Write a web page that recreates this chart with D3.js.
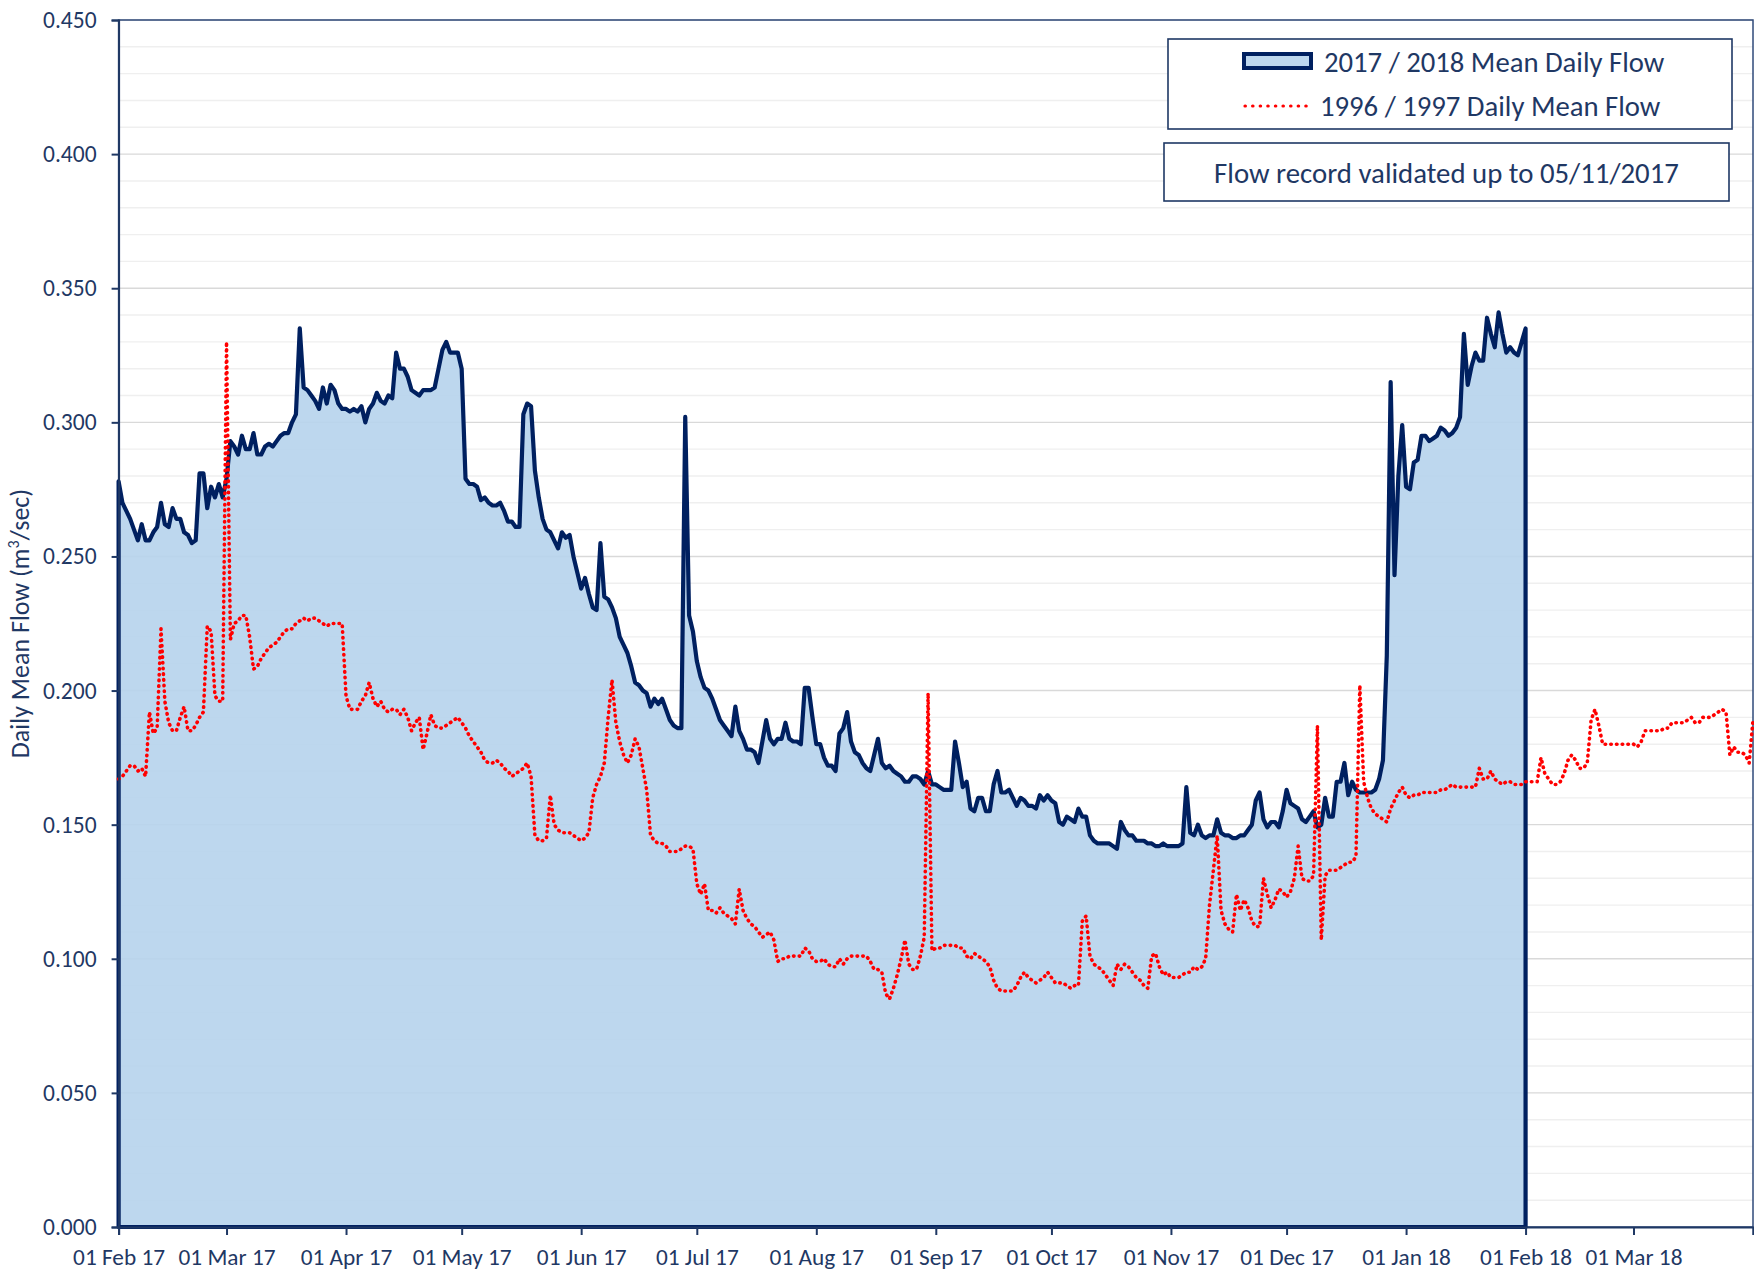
<!DOCTYPE html>
<html><head><meta charset="utf-8">
<script src="https://cdn.jsdelivr.net/npm/d3@7"></script>
<style>
body{margin:0;background:#fff}
svg{display:block}
text{font-family:Carlito, Lato, "Noto Sans", sans-serif; fill:#1f3864}
</style>
</head><body>
<svg id="chart" width="1754" height="1274"></svg>
<script>
// ---------------- DATA ----------------
const seriesStart = "2017-02-01";
const axisStart = "2017-02-01";
const axisEnd = "2018-04-01";

// 2017/2018 mean daily flow (m3/sec), one value per day from 01 Feb 2017
const flow2017 = [
0.278,0.270,0.267,0.264,0.260,0.256,0.262,0.256,0.256,0.259,
0.261,0.270,0.262,0.261,0.268,0.264,0.264,0.259,0.258,0.255,
0.256,0.281,0.281,0.268,0.276,0.272,0.277,0.272,0.279,0.293,
0.291,0.288,0.295,0.290,0.290,0.296,0.288,0.288,0.291,0.292,
0.291,0.293,0.295,0.296,0.296,0.300,0.303,0.335,0.313,0.312,
0.310,0.308,0.305,0.313,0.307,0.314,0.312,0.307,0.305,0.305,
0.304,0.305,0.304,0.306,0.300,0.305,0.307,0.311,0.308,0.307,
0.310,0.309,0.326,0.320,0.320,0.317,0.312,0.311,0.310,0.312,
0.312,0.312,0.313,0.320,0.327,0.330,0.326,0.326,0.326,0.320,
0.279,0.277,0.277,0.276,0.271,0.272,0.270,0.269,0.269,0.270,
0.267,0.263,0.263,0.261,0.261,0.303,0.307,0.306,0.282,0.272,
0.264,0.260,0.259,0.256,0.253,0.259,0.257,0.258,0.250,0.244,
0.238,0.242,0.236,0.231,0.230,0.255,0.235,0.234,0.231,0.227,
0.220,0.217,0.214,0.209,0.203,0.202,0.200,0.199,0.194,0.197,
0.195,0.197,0.193,0.189,0.187,0.186,0.186,0.302,0.228,0.222,
0.211,0.205,0.201,0.200,0.197,0.193,0.189,0.187,0.185,0.183,
0.194,0.185,0.182,0.178,0.178,0.177,0.173,0.181,0.189,0.182,
0.180,0.182,0.182,0.188,0.182,0.181,0.181,0.180,0.201,0.201,
0.190,0.180,0.180,0.175,0.172,0.172,0.170,0.184,0.186,0.192,
0.181,0.177,0.176,0.173,0.171,0.170,0.176,0.182,0.173,0.171,
0.172,0.170,0.169,0.168,0.166,0.166,0.168,0.168,0.167,0.165,
0.170,0.165,0.165,0.164,0.163,0.163,0.163,0.181,0.173,0.164,
0.166,0.156,0.155,0.160,0.160,0.155,0.155,0.165,0.170,0.162,
0.162,0.163,0.160,0.157,0.160,0.159,0.157,0.157,0.156,0.161,
0.159,0.161,0.159,0.158,0.151,0.150,0.153,0.152,0.151,0.156,
0.153,0.153,0.146,0.144,0.143,0.143,0.143,0.143,0.142,0.141,
0.151,0.148,0.146,0.146,0.144,0.144,0.144,0.143,0.143,0.142,
0.142,0.143,0.142,0.142,0.142,0.142,0.143,0.164,0.147,0.146,
0.150,0.146,0.145,0.146,0.146,0.152,0.147,0.146,0.146,0.145,
0.145,0.146,0.146,0.148,0.150,0.159,0.162,0.152,0.149,0.151,
0.151,0.149,0.155,0.163,0.158,0.157,0.156,0.152,0.151,0.153,
0.155,0.149,0.150,0.160,0.153,0.153,0.166,0.166,0.173,0.161,
0.166,0.163,0.162,0.162,0.162,0.162,0.163,0.167,0.174,0.213,
0.315,0.243,0.280,0.299,0.276,0.275,0.285,0.286,0.295,0.295,
0.293,0.294,0.295,0.298,0.297,0.295,0.296,0.298,0.302,0.333,
0.314,0.321,0.326,0.323,0.323,0.339,0.333,0.328,0.341,0.333,
0.326,0.328,0.326,0.325,0.330,0.335
];

// 1996/1997 daily mean flow (m3/sec), one value per day, overlaid from 01 Feb
const flow1996 = [
0.167,0.168,0.170,0.172,0.172,0.170,0.171,0.168,0.192,0.184,
0.186,0.223,0.196,0.188,0.185,0.185,0.190,0.194,0.185,0.185,
0.187,0.190,0.192,0.224,0.222,0.198,0.196,0.196,0.330,0.219,
0.225,0.226,0.228,0.228,0.220,0.208,0.209,0.212,0.214,0.216,
0.217,0.218,0.220,0.222,0.223,0.223,0.225,0.226,0.227,0.226,
0.227,0.227,0.226,0.225,0.224,0.225,0.225,0.225,0.225,0.198,
0.193,0.193,0.193,0.196,0.198,0.203,0.197,0.194,0.196,0.193,
0.192,0.193,0.193,0.191,0.193,0.190,0.185,0.188,0.190,0.178,
0.184,0.191,0.187,0.186,0.186,0.187,0.188,0.189,0.190,0.188,
0.186,0.183,0.181,0.179,0.177,0.174,0.173,0.173,0.174,0.173,
0.171,0.170,0.168,0.169,0.170,0.171,0.173,0.168,0.146,0.144,
0.144,0.145,0.161,0.150,0.148,0.147,0.147,0.147,0.146,0.145,
0.144,0.145,0.147,0.160,0.165,0.168,0.173,0.190,0.204,0.188,
0.181,0.176,0.173,0.176,0.182,0.179,0.171,0.163,0.146,0.144,
0.143,0.143,0.142,0.140,0.140,0.140,0.141,0.142,0.142,0.141,
0.128,0.124,0.128,0.118,0.118,0.117,0.119,0.117,0.116,0.115,
0.113,0.126,0.118,0.115,0.113,0.112,0.110,0.108,0.109,0.110,
0.107,0.099,0.100,0.100,0.101,0.101,0.101,0.101,0.104,0.103,
0.100,0.099,0.099,0.100,0.098,0.097,0.097,0.100,0.098,0.100,
0.101,0.101,0.101,0.101,0.101,0.099,0.096,0.096,0.095,0.087,
0.085,0.089,0.094,0.100,0.107,0.098,0.096,0.096,0.101,0.108,
0.199,0.103,0.104,0.104,0.105,0.105,0.105,0.105,0.104,0.104,
0.101,0.100,0.102,0.101,0.100,0.099,0.097,0.092,0.089,0.088,
0.088,0.088,0.088,0.090,0.093,0.095,0.093,0.092,0.091,0.092,
0.093,0.095,0.093,0.091,0.091,0.091,0.090,0.089,0.090,0.090,
0.114,0.116,0.101,0.098,0.097,0.096,0.094,0.092,0.090,0.098,
0.096,0.098,0.097,0.095,0.093,0.092,0.090,0.089,0.101,0.102,
0.097,0.094,0.095,0.093,0.093,0.093,0.094,0.095,0.095,0.097,
0.096,0.097,0.100,0.120,0.133,0.146,0.118,0.113,0.111,0.110,
0.124,0.118,0.122,0.119,0.114,0.112,0.112,0.130,0.124,0.119,
0.122,0.126,0.125,0.123,0.125,0.130,0.142,0.130,0.129,0.129,
0.131,0.187,0.107,0.131,0.133,0.133,0.133,0.134,0.135,0.136,
0.136,0.138,0.202,0.166,0.160,0.156,0.154,0.153,0.152,0.151,
0.156,0.159,0.162,0.164,0.161,0.160,0.161,0.161,0.162,0.162,
0.162,0.162,0.162,0.163,0.163,0.164,0.165,0.164,0.164,0.164,
0.164,0.164,0.164,0.171,0.167,0.167,0.170,0.167,0.166,0.165,
0.166,0.166,0.165,0.165,0.165,0.166,0.166,0.166,0.166,0.175,
0.169,0.167,0.165,0.165,0.166,0.169,0.174,0.176,0.174,0.171,
0.171,0.173,0.189,0.193,0.187,0.180,0.180,0.180,0.180,0.180,
0.180,0.180,0.180,0.180,0.179,0.181,0.185,0.185,0.185,0.185,
0.185,0.186,0.186,0.188,0.188,0.188,0.188,0.189,0.190,0.188,
0.188,0.190,0.190,0.190,0.191,0.192,0.193,0.192,0.176,0.179,
0.177,0.177,0.176,0.173,0.189
];

const yTicks = [0,0.05,0.10,0.15,0.20,0.25,0.30,0.35,0.40,0.45];
const yMinorStep = 0.01;
const xTickDates = ["2017-02-01","2017-03-01","2017-04-01","2017-05-01","2017-06-01","2017-07-01","2017-08-01","2017-09-01","2017-10-01","2017-11-01","2017-12-01","2018-01-01","2018-02-01","2018-03-01","2018-04-01"];
const xTickLabels = ["01 Feb 17","01 Mar 17","01 Apr 17","01 May 17","01 Jun 17","01 Jul 17","01 Aug 17","01 Sep 17","01 Oct 17","01 Nov 17","01 Dec 17","01 Jan 18","01 Feb 18","01 Mar 18",""];
const legendLabels = ["2017 / 2018 Mean Daily Flow","1996 / 1997 Daily Mean Flow"];
const noteText = "Flow record validated up to 05/11/2017";

// ---------------- CHART ----------------
const parse = d3.utcParse("%Y-%m-%d");
const start = parse(seriesStart);
const navy = "#002060", axisCol = "#1f3864";
const L = 118.6, R = 1753, T = 20, B = 1227;

const x = d3.scaleUtc().domain([parse(axisStart), parse(axisEnd)]).range([L, R]);
const y = d3.scaleLinear().domain([0, 0.45]).range([B, T]);

const blue = flow2017.map((v,i)=>({date:d3.utcDay.offset(start,i), v}));
const red = flow1996.map((v,i)=>({date:d3.utcDay.offset(start,i), v}));

const svg = d3.select("#chart");

// minor gridlines
const minor = d3.range(0, 0.4501, yMinorStep).filter(v => !yTicks.some(t=>Math.abs(t-v)<1e-6));
svg.append("g").selectAll("line").data(minor).join("line")
  .attr("x1", L).attr("x2", R).attr("y1", d=>y(d)).attr("y2", d=>y(d))
  .attr("stroke", "#efefef").attr("stroke-width", 1.4);
// major gridlines
svg.append("g").selectAll("line").data(yTicks.filter(t=>t>0)).join("line")
  .attr("x1", L).attr("x2", R).attr("y1", d=>y(d)).attr("y2", d=>y(d))
  .attr("stroke", "#d9d9d9").attr("stroke-width", 1.4);

// plot border
svg.append("rect").attr("x", L).attr("y", T).attr("width", R-L).attr("height", B-T)
  .attr("fill", "none").attr("stroke", "#2f4a7a").attr("stroke-width", 1.5);

// area series
const area = d3.area().x(d=>x(d.date)).y0(y(0)).y1(d=>y(d.v));
svg.append("path").datum(blue).attr("d", area)
  .attr("fill", "#b6d3ec").attr("fill-opacity", 0.9)
  .attr("stroke", navy).attr("stroke-width", 4.2).attr("stroke-linejoin", "round");

// 1996/97 dotted line
const line = d3.line().x(d=>x(d.date)).y(d=>y(d.v));
svg.append("path").datum(red).attr("d", line)
  .attr("fill", "none").attr("stroke", "#ff0000").attr("stroke-width", 3.6)
  .attr("stroke-dasharray", "0.5 5.2").attr("stroke-linecap", "round").attr("stroke-linejoin", "round");

// y axis
const yAxis = svg.append("g").attr("transform", `translate(${L},0)`)
  .call(d3.axisLeft(y).tickValues(yTicks).tickFormat(d3.format(".3f")).tickSize(7).tickPadding(15));
yAxis.select(".domain").attr("stroke", axisCol).attr("stroke-width", 2);
yAxis.selectAll(".tick line").attr("stroke", axisCol).attr("stroke-width", 2);
yAxis.selectAll("text").style("font-size", "23.5px").attr("fill", axisCol);

// x axis
const xAxis = svg.append("g").attr("transform", `translate(0,${B})`)
  .call(d3.axisBottom(x).tickValues(xTickDates.map(parse))
    .tickFormat((d,i)=>xTickLabels[i]).tickSize(8).tickPadding(13));
xAxis.select(".domain").attr("stroke", axisCol).attr("stroke-width", 2);
xAxis.selectAll(".tick line").attr("stroke", axisCol).attr("stroke-width", 2);
xAxis.selectAll("text").style("font-size", "23.3px").attr("fill", axisCol);

// y title
const title = svg.append("text")
  .attr("transform", `translate(29,${(T+B)/2}) rotate(-90)`)
  .attr("text-anchor", "middle").style("font-size", "26px");
title.append("tspan").text("Daily Mean Flow (m");
title.append("tspan").text("3").style("font-size", "16px").attr("dy", "-10");
title.append("tspan").text("/sec)").attr("dy", "10");

// legend
const lg = svg.append("g");
lg.append("rect").attr("x", 1168).attr("y", 39).attr("width", 564).attr("height", 90)
  .attr("fill", "#fff").attr("stroke", axisCol).attr("stroke-width", 1.6);
lg.append("rect").attr("x", 1244).attr("y", 54).attr("width", 67).attr("height", 14)
  .attr("fill", "#bdd7ee").attr("stroke", navy).attr("stroke-width", 4);
lg.append("text").attr("x", 1324).attr("y", 71.5).style("font-size", "28.7px").text(legendLabels[0]);
lg.append("line").attr("x1", 1245).attr("x2", 1311).attr("y1", 106).attr("y2", 106)
  .attr("stroke", "#ff0000").attr("stroke-width", 3.2)
  .attr("stroke-dasharray", "0.4 7.2").attr("stroke-linecap", "round");
lg.append("text").attr("x", 1320).attr("y", 116).style("font-size", "28.7px").text(legendLabels[1]);

// validation note
svg.append("rect").attr("x", 1164).attr("y", 143).attr("width", 565).attr("height", 58)
  .attr("fill", "#fff").attr("stroke", axisCol).attr("stroke-width", 1.6);
svg.append("text").attr("x", 1446.5).attr("y", 183).attr("text-anchor", "middle")
  .style("font-size", "28.8px").text(noteText);
</script>
</body></html>
